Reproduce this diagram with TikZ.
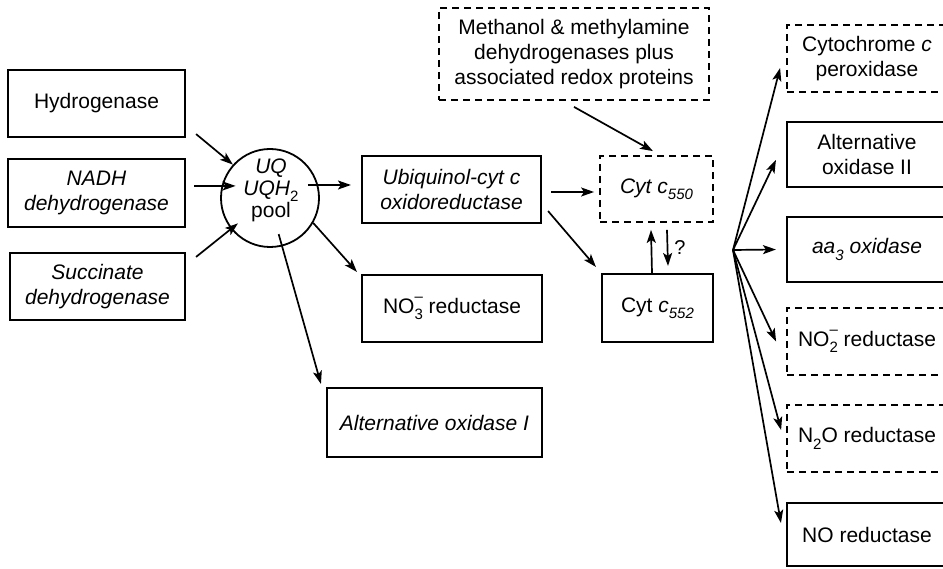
\documentclass[tikz,border=0pt]{standalone}
\usepackage{fontspec}
\setmainfont{Liberation Sans}
\usetikzlibrary{arrows.meta}
\newcommand\sbx[1]{\raisebox{-0.3em}{\fontsize{15}{15}\selectfont #1}}
\newcommand\supsbx[2]{\makebox[0pt][l]{\raisebox{0.55em}{\fontsize{15}{15}\selectfont #1}}\sbx{#2}}
\begin{document}
\begin{tikzpicture}[x=1pt,y=-1pt,
  every node/.style={font=\fontsize{21}{25}\selectfont, align=center, inner sep=0pt},
  box/.style={draw, line width=2.1pt},
  dbox/.style={draw, line width=1.8pt, dash pattern=on 7pt off 5pt},
  arr/.style={line width=1.7pt, -{Stealth[length=13pt,width=9pt,inset=3pt]}}]
\useasboundingbox (0,0) rectangle (943,569);
\clip (0,0) rectangle (943,569);

% left column
\node[box, minimum width=177pt, minimum height=67pt] (hyd) at (96.5,103.5) {Hydrogenase};
\node[box, minimum width=177pt, minimum height=68pt] (nadh) at (96.5,193) {\textit{NADH}\\\textit{dehydrogenase}};
\node[box, minimum width=175pt, minimum height=67pt] (succ) at (97.5,286.5) {\textit{Succinate}\\\textit{dehydrogenase}};

% pool
\node[draw, circle, line width=1.8pt, minimum size=98pt] (pool) at (270,198) {};
\node[font=\fontsize{21}{22}\selectfont] (pooltxt) at (271,190) {\textit{UQ}\\\textit{UQH}\sbx{2}\\pool};

% middle
\node[box, minimum width=179pt, minimum height=67pt] (ubq) at (451.5,189.5) {\textit{Ubiquinol-cyt c}\\\textit{oxidoreductase}};
\node[box, minimum width=180pt, minimum height=67pt] (no3) at (452,308.5) {NO\supsbx{--}{3} reductase};
\node[box, minimum width=215pt, minimum height=69pt] (altI) at (434.5,422.5) {\textit{Alternative oxidase I}};
\node[dbox, minimum width=270pt, minimum height=92pt] (meth) at (574,54) {Methanol \& methylamine\\dehydrogenases plus\\associated redox proteins};
\node[dbox, minimum width=113pt, minimum height=66pt] (c550) at (656.5,189) {\textit{Cyt c}\sbx{\textit{550}}};
\node[box, minimum width=111pt, minimum height=68pt] (c552) at (657.5,308) {Cyt \textit{c}\sbx{\textit{552}}};

% right column
\node[dbox, minimum width=160pt, minimum height=67pt] (perox) at (867,58.5) {Cytochrome \textit{c}\\peroxidase};
\node[box, minimum width=160pt, minimum height=65pt] (altII) at (867,154.5) {Alternative\\oxidase II};
\node[box, minimum width=160pt, minimum height=65pt] (aa3) at (867,249.5) {\textit{aa}\sbx{\textit{3}} \textit{oxidase}};
\node[dbox, minimum width=160pt, minimum height=67pt] (no2) at (867,341.5) {NO\supsbx{--}{2} reductase};
\node[dbox, minimum width=160pt, minimum height=67pt] (n2o) at (867,438.5) {N\sbx{2}O reductase};
\node[box, minimum width=160pt, minimum height=63pt] (no) at (867,534.5) {NO reductase};

\coordinate (hub) at (733,250);

% connectors into pool
\draw[arr] ([shift={(10pt,4pt)}]hyd.south east) -- (pool.138);
\draw[arr] ([shift={(8pt,7pt)}]nadh.east) -- ([xshift=14pt]pool.166);
\draw[arr] ([shift={(10pt,-5pt)}]succ.north east) -- ([shift={(5pt,8pt)}]pool.222);

% out of pool
\draw[arr] ([shift={(-12pt,13pt)}]pool.east) -- ([shift={(-10pt,4.5pt)}]ubq.west);
\draw[arr] (pool.-30) -- ([shift={(-4pt,2pt)}]no3.north west);
\draw[arr] ([yshift=13pt]pool.-80) -- ([shift={(-5pt,3pt)}]altI.north west);

% middle connectors
\draw[arr] ([shift={(9pt,-2.5pt)}]ubq.east) -- ([shift={(-5pt,-3pt)}]c550.west);
\draw[arr] ([shift={(6pt,13pt)}]ubq.south east) -- ([shift={(-5pt,6pt)}]c552.north west);
\draw[arr] ([yshift=-6pt]meth.south) -- ([shift={(-3.5pt,4pt)}]c550.north);
\draw[arr] ([xshift=-5.5pt]c552.north) -- ([shift={(-5.5pt,-7pt)}]c550.south);
\draw[arr] ([shift={(10.5pt,-7pt)}]c550.south) -- node[right=6pt, font=\fontsize{20}{20}\selectfont] (q) {?} ([shift={(10.5pt,7pt)}]c552.north);

% fan
\draw[arr] (hub) -- ([shift={(-6pt,-9.5pt)}]perox.west);
\draw[arr] (hub) -- ([shift={(-10pt,-5.5pt)}]altII.west);
\draw[arr] (hub) -- ([xshift=-10pt]aa3.west);
\draw[arr] (hub) -- ([xshift=-10pt]no2.west);
\draw[arr] (hub) -- ([shift={(-5pt,8.5pt)}]n2o.west);
\draw[arr] (hub) -- ([shift={(-5pt,11.5pt)}]no.west);
\end{tikzpicture}
\end{document}
